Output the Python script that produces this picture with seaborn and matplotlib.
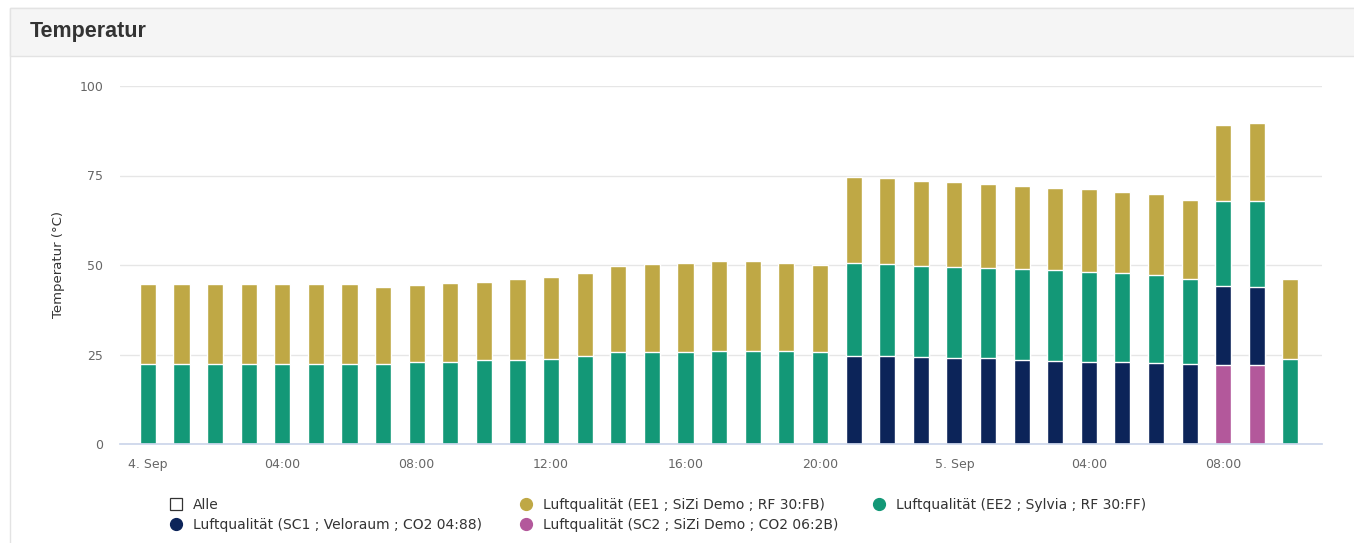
import numpy as np
import pandas as pd
import matplotlib
matplotlib.use("Agg")
import matplotlib.pyplot as plt
from matplotlib.lines import Line2D
from matplotlib.patches import Rectangle
import seaborn as sns

# hourly bars, 4. Sep 00:00 .. 5. Sep 10:00
hours = pd.date_range("2023-09-04 00:00", periods=35, freq="h")
hour_keys = [h.strftime("%d.%m %H:%M") for h in hours]

nan = np.nan
# Luftqualität (EE1 ; SiZi Demo ; RF 30:FB)  - gold, top of stack
ee1 = [22.4, 22.4, 22.4, 22.4, 22.4, 22.4, 22.4, 21.6, 21.6, 22.0,
       21.9, 22.6, 22.9, 23.2, 24.0, 24.6, 24.9, 24.9, 24.9, 24.5,
       24.3, 24.0, 24.0, 23.7, 23.7, 23.3, 23.4, 23.0, 23.0, 22.7,
       22.6, 22.1, 21.2, 21.7, 22.3]
# Luftqualität (EE2 ; Sylvia ; RF 30:FF) - green
ee2 = [22.3, 22.3, 22.3, 22.3, 22.3, 22.3, 22.3, 22.3, 22.8, 22.9,
       23.4, 23.4, 23.7, 24.7, 25.7, 25.7, 25.7, 26.1, 26.1, 26.1,
       25.7, 25.8, 25.5, 25.6, 25.6, 25.3, 25.3, 25.2, 25.2, 24.8,
       24.7, 23.8, 23.8, 24.1, 23.7]
# Luftqualität (SC1 ; Veloraum ; CO2 04:88) - navy
sc1 = [nan] * 21 + [24.7, 24.7, 24.2, 23.9, 23.9, 23.5, 23.3, 22.9, 23.0,
                    22.5, 22.3, 22.0, 21.7, nan]
# Luftqualität (SC2 ; SiZi Demo ; CO2 06:2B) - magenta, bottom of stack
sc2 = [nan] * 32 + [22.1, 22.1, nan]

series_names = ["Luftqualität (EE1 ; SiZi Demo ; RF 30:FB)",
                "Luftqualität (EE2 ; Sylvia ; RF 30:FF)",
                "Luftqualität (SC1 ; Veloraum ; CO2 04:88)",
                "Luftqualität (SC2 ; SiZi Demo ; CO2 06:2B)"]
colors = ["#bfa845", "#139877", "#0c2459", "#b3589b"]

tick_pos = [0, 4, 8, 12, 16, 20, 24, 28, 32]
tick_labels = ["4. Sep", "04:00", "08:00", "12:00", "16:00", "20:00",
               "5. Sep", "04:00", "08:00"]

df = pd.DataFrame({"hour": hour_keys, "ee1": ee1, "ee2": ee2,
                   "sc1": sc1, "sc2": sc2})

# cumulative tops for the stack (bottom: sc2, sc1, ee2, ee1 on top)
stack = df[["sc2", "sc1", "ee2", "ee1"]].fillna(0).cumsum(axis=1)
for col in ["sc2", "sc1", "ee2", "ee1"]:
    stack.loc[df[col].isna(), col] = np.nan
stack["hour"] = df["hour"]

sns.set_theme(style="white")
plt.rcParams["font.family"] = ["DejaVu Sans"]

fig = plt.figure(figsize=(13.54, 5.43), dpi=100)
fig.patch.set_facecolor("white")

# card frame + grey header
W, H = 1354, 543
fig.patches.append(Rectangle((10 / W, -0.01), 1.0, (543 - 8) / H + 0.01,
                             transform=fig.transFigure, facecolor="white",
                             edgecolor="#e3e3e3", linewidth=1, zorder=-2))
fig.patches.append(Rectangle((10 / W, (543 - 56) / H), 1.0, 48 / H,
                             transform=fig.transFigure, facecolor="#f5f5f5",
                             edgecolor="#e3e3e3", linewidth=1, zorder=-1))
fig.text(30 / W, (543 - 31) / H, "Temperatur", fontsize=15.5,
         fontweight="bold", color="#333333", va="center", ha="left",
         family=["Liberation Sans", "DejaVu Sans"])

ax = fig.add_axes([120 / W, (543 - 444) / H, (1322 - 120) / W, (444 - 86) / H])
ax.set_facecolor("none")
ax.set_zorder(2)

for col, c in zip(["ee1", "ee2", "sc1", "sc2"], colors):
    sns.barplot(data=stack, x="hour", y=col, order=hour_keys, color=c,
                saturation=1, width=0.48, errorbar=None,
                edgecolor="white", linewidth=1, ax=ax, zorder=3)

ax.set_xlim(-0.83, 34.94)
ax.set_ylim(0, 100)
ax.set_yticks([0, 25, 50, 75, 100])
ax.set_xticks(tick_pos)
ax.set_xticklabels(tick_labels)
ax.yaxis.grid(True, color="#e6e6e6", linewidth=1, zorder=0)
ax.xaxis.grid(False)
ax.set_axisbelow(True)
for s in ["top", "right", "left"]:
    ax.spines[s].set_visible(False)
ax.spines["bottom"].set_color("#ccd6eb")
ax.spines["bottom"].set_zorder(5)
ax.tick_params(axis="x", colors="#666666", labelsize=9, length=7,
               width=1, pad=3, direction="out")
ax.tick_params(axis="x", color="#ccd6eb")
ax.tick_params(axis="y", colors="#666666", labelsize=9, length=0, pad=12)
ax.set_xlabel("")
ax.set_ylabel("Temperatur (°C)", fontsize=9.5, color="#333333")
ax.yaxis.set_label_coords(-0.046, 0.5)

# legend (three columns, like the chart library lays it out)
def dot(c):
    return Line2D([], [], marker="o", linestyle="", markersize=8.5,
                  markerfacecolor=c, markeredgecolor=c)

alle = Line2D([], [], marker="s", linestyle="", markersize=8,
              markerfacecolor="white", markeredgecolor="#333333",
              markeredgewidth=0.9)

leg_kw = dict(frameon=False, fontsize=10, handlelength=1.0,
              handletextpad=0.72, labelspacing=0.45, borderpad=0,
              loc="upper left", labelcolor="#333333")
top_y = (543 - 491) / H
fig.legend([alle, dot(colors[2])], ["Alle", series_names[2]],
           bbox_to_anchor=(162 / W, top_y), **leg_kw)
fig.legend([dot(colors[0]), dot(colors[3])], [series_names[0], series_names[3]],
           bbox_to_anchor=(512 / W, top_y), **leg_kw)
fig.legend([dot(colors[1])], [series_names[1]],
           bbox_to_anchor=(865 / W, top_y), **leg_kw)

fig.savefig("out.png", dpi=100)
